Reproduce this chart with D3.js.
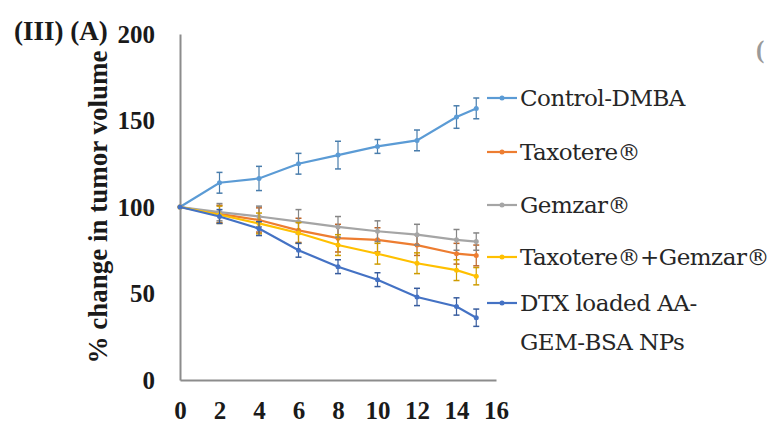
<!DOCTYPE html>
<html>
<head>
<meta charset="utf-8">
<script src="https://cdn.jsdelivr.net/npm/d3@7"></script>
<style>
  html, body { margin: 0; padding: 0; background: #fff; }
  svg { display: block; }
  .serif { font-family: "Liberation Serif", "Times New Roman", Times, serif; }
  .legend-text { font-family: "DejaVu Serif", "Liberation Serif", serif; }
</style>
</head>
<body>
<script>
// Days of treatment
const days = [0, 2, 4, 6, 8, 10, 12, 14, 15];

// Series names and colours
const seriesNames = ["Control-DMBA", "Taxotere®", "Gemzar®", "Taxotere®+Gemzar®", "DTX loaded AA-GEM-BSA NPs"];
const seriesColors = ["#5b9bd5", "#ed7d31", "#a5a5a5", "#ffc000", "#4472c4"];

// % change in tumor volume (mean) per series
const controlValues = [100, 114, 116.5, 125, 130, 135, 138.5, 152, 157];
const taxotereValues = [100, 96, 92.5, 86.5, 82, 81, 78, 73, 72];
const gemzarValues = [100, 97, 94.5, 91.5, 88.5, 86, 84, 81, 80];
const comboValues = [100, 95.5, 90.5, 85, 78, 73, 67.5, 63.5, 60];
const nanoValues = [100, 94.5, 87.5, 75, 65.5, 58, 48, 42.5, 36];

// Error bar half-widths per series
const controlErr = [0, 6, 7, 6, 8, 4, 6, 6.5, 6];
const taxotereErr = [0, 5, 7, 7, 8, 7, 6, 6, 6];
const gemzarErr = [0, 5, 6, 7, 6, 6, 6, 6, 5];
const comboErr = [0, 5, 6, 6, 6, 6, 6, 6, 5];
const nanoErr = [0, 4, 4, 4, 4, 4, 5, 5, 5];

// Axis ticks
const xTicks = [0, 2, 4, 6, 8, 10, 12, 14, 16];
const yTicks = [0, 50, 100, 150, 200];

const allValues = [controlValues, taxotereValues, gemzarValues, comboValues, nanoValues];
const allErr = [controlErr, taxotereErr, gemzarErr, comboErr, nanoErr];

const W = 769, H = 425;
const svg = d3.select("body").append("svg").attr("width", W).attr("height", H);
svg.append("rect").attr("width", W).attr("height", H).attr("fill", "#fff");

const x = d3.scaleLinear().domain([0, 16]).range([180, 496]);
const y = d3.scaleLinear().domain([0, 200]).range([380, 34]);

// Axes
const gx = svg.append("g").attr("transform", `translate(0,${y(0)})`)
  .call(d3.axisBottom(x).tickValues(xTicks).tickSize(0).tickPadding(21).tickFormat(d3.format("d")));
const gy = svg.append("g").attr("transform", `translate(${x(0)},0)`)
  .call(d3.axisLeft(y).tickValues(yTicks).tickSize(0).tickPadding(25).tickFormat(d3.format("d")));

[gx, gy].forEach(g => {
  g.attr("font-family", null).attr("font-size", null);
  g.select(".domain").attr("stroke", "#8c8c8c").attr("stroke-width", 2);
  g.selectAll("text").attr("class", "serif").style("font-weight", "bold")
    .style("font-size", "25px").attr("fill", "#1a1a1a");
});

// Y axis title
svg.append("text")
  .attr("class", "serif")
  .attr("transform", "translate(107,207) rotate(-90)")
  .attr("text-anchor", "middle")
  .style("font-weight", "bold").style("font-size", "27px")
  .attr("fill", "#1a1a1a")
  .text("% change in tumor volume");

// Panel label
svg.append("text")
  .attr("class", "serif")
  .attr("x", 14).attr("y", 40)
  .style("font-weight", "bold").style("font-size", "27px")
  .attr("fill", "#1a1a1a")
  .text("(III) (A)");

// Neighbouring panel label, cut at the right edge
svg.append("text")
  .attr("class", "serif")
  .attr("x", 756).attr("y", 58)
  .style("font-weight", "bold").style("font-size", "25px")
  .attr("fill", "#9a9a9a")
  .text("(");

const line = d3.line().x((d, i) => x(days[i])).y(d => y(d));

// Series lines, error bars and markers
allValues.forEach((vals, s) => {
  const color = seriesColors[s];
  const g = svg.append("g");
  g.append("path").datum(vals)
    .attr("d", line)
    .attr("fill", "none")
    .attr("stroke", color)
    .attr("stroke-width", 2.2);

  const errColor = d3.color(color).darker(0.6).formatHex();
  vals.forEach((v, i) => {
    const e = allErr[s][i];
    if (!e) return;
    const cx = x(days[i]);
    g.append("line").attr("x1", cx).attr("x2", cx)
      .attr("y1", y(v + e)).attr("y2", y(v - e))
      .attr("stroke", errColor).attr("stroke-width", 1.2);
    [v + e, v - e].forEach(b => {
      g.append("line").attr("x1", cx - 3).attr("x2", cx + 3)
        .attr("y1", y(b)).attr("y2", y(b))
        .attr("stroke", errColor).attr("stroke-width", 1.5);
    });
  });

  g.selectAll("circle").data(vals).enter().append("circle")
    .attr("cx", (d, i) => x(days[i]))
    .attr("cy", d => y(d))
    .attr("r", 2.5)
    .attr("fill", color);
});

// Legend
const legendY = [98, 152, 205, 257, 303];
const legendLines = [["Control-DMBA"], ["Taxotere®"], ["Gemzar®"], ["Taxotere®+Gemzar®"], ["DTX loaded AA-", "GEM-BSA NPs"]];
legendY.forEach((ly, s) => {
  const g = svg.append("g");
  g.append("line").attr("x1", 487).attr("x2", 517).attr("y1", ly).attr("y2", ly)
    .attr("stroke", seriesColors[s]).attr("stroke-width", 2.2);
  g.append("circle").attr("cx", 502).attr("cy", ly).attr("r", 2.5).attr("fill", seriesColors[s]);
  const t = g.append("text")
    .attr("class", "legend-text")
    .attr("x", 520).attr("y", ly)
    .style("font-size", "23px")
    .style("letter-spacing", "-0.5px")
    .attr("fill", "#262626");
  legendLines[s].forEach((txt, k) => {
    t.append("tspan").attr("x", 520).attr("dy", k === 0 ? "0.35em" : 39).text(txt);
  });
});
</script>
</body>
</html>
